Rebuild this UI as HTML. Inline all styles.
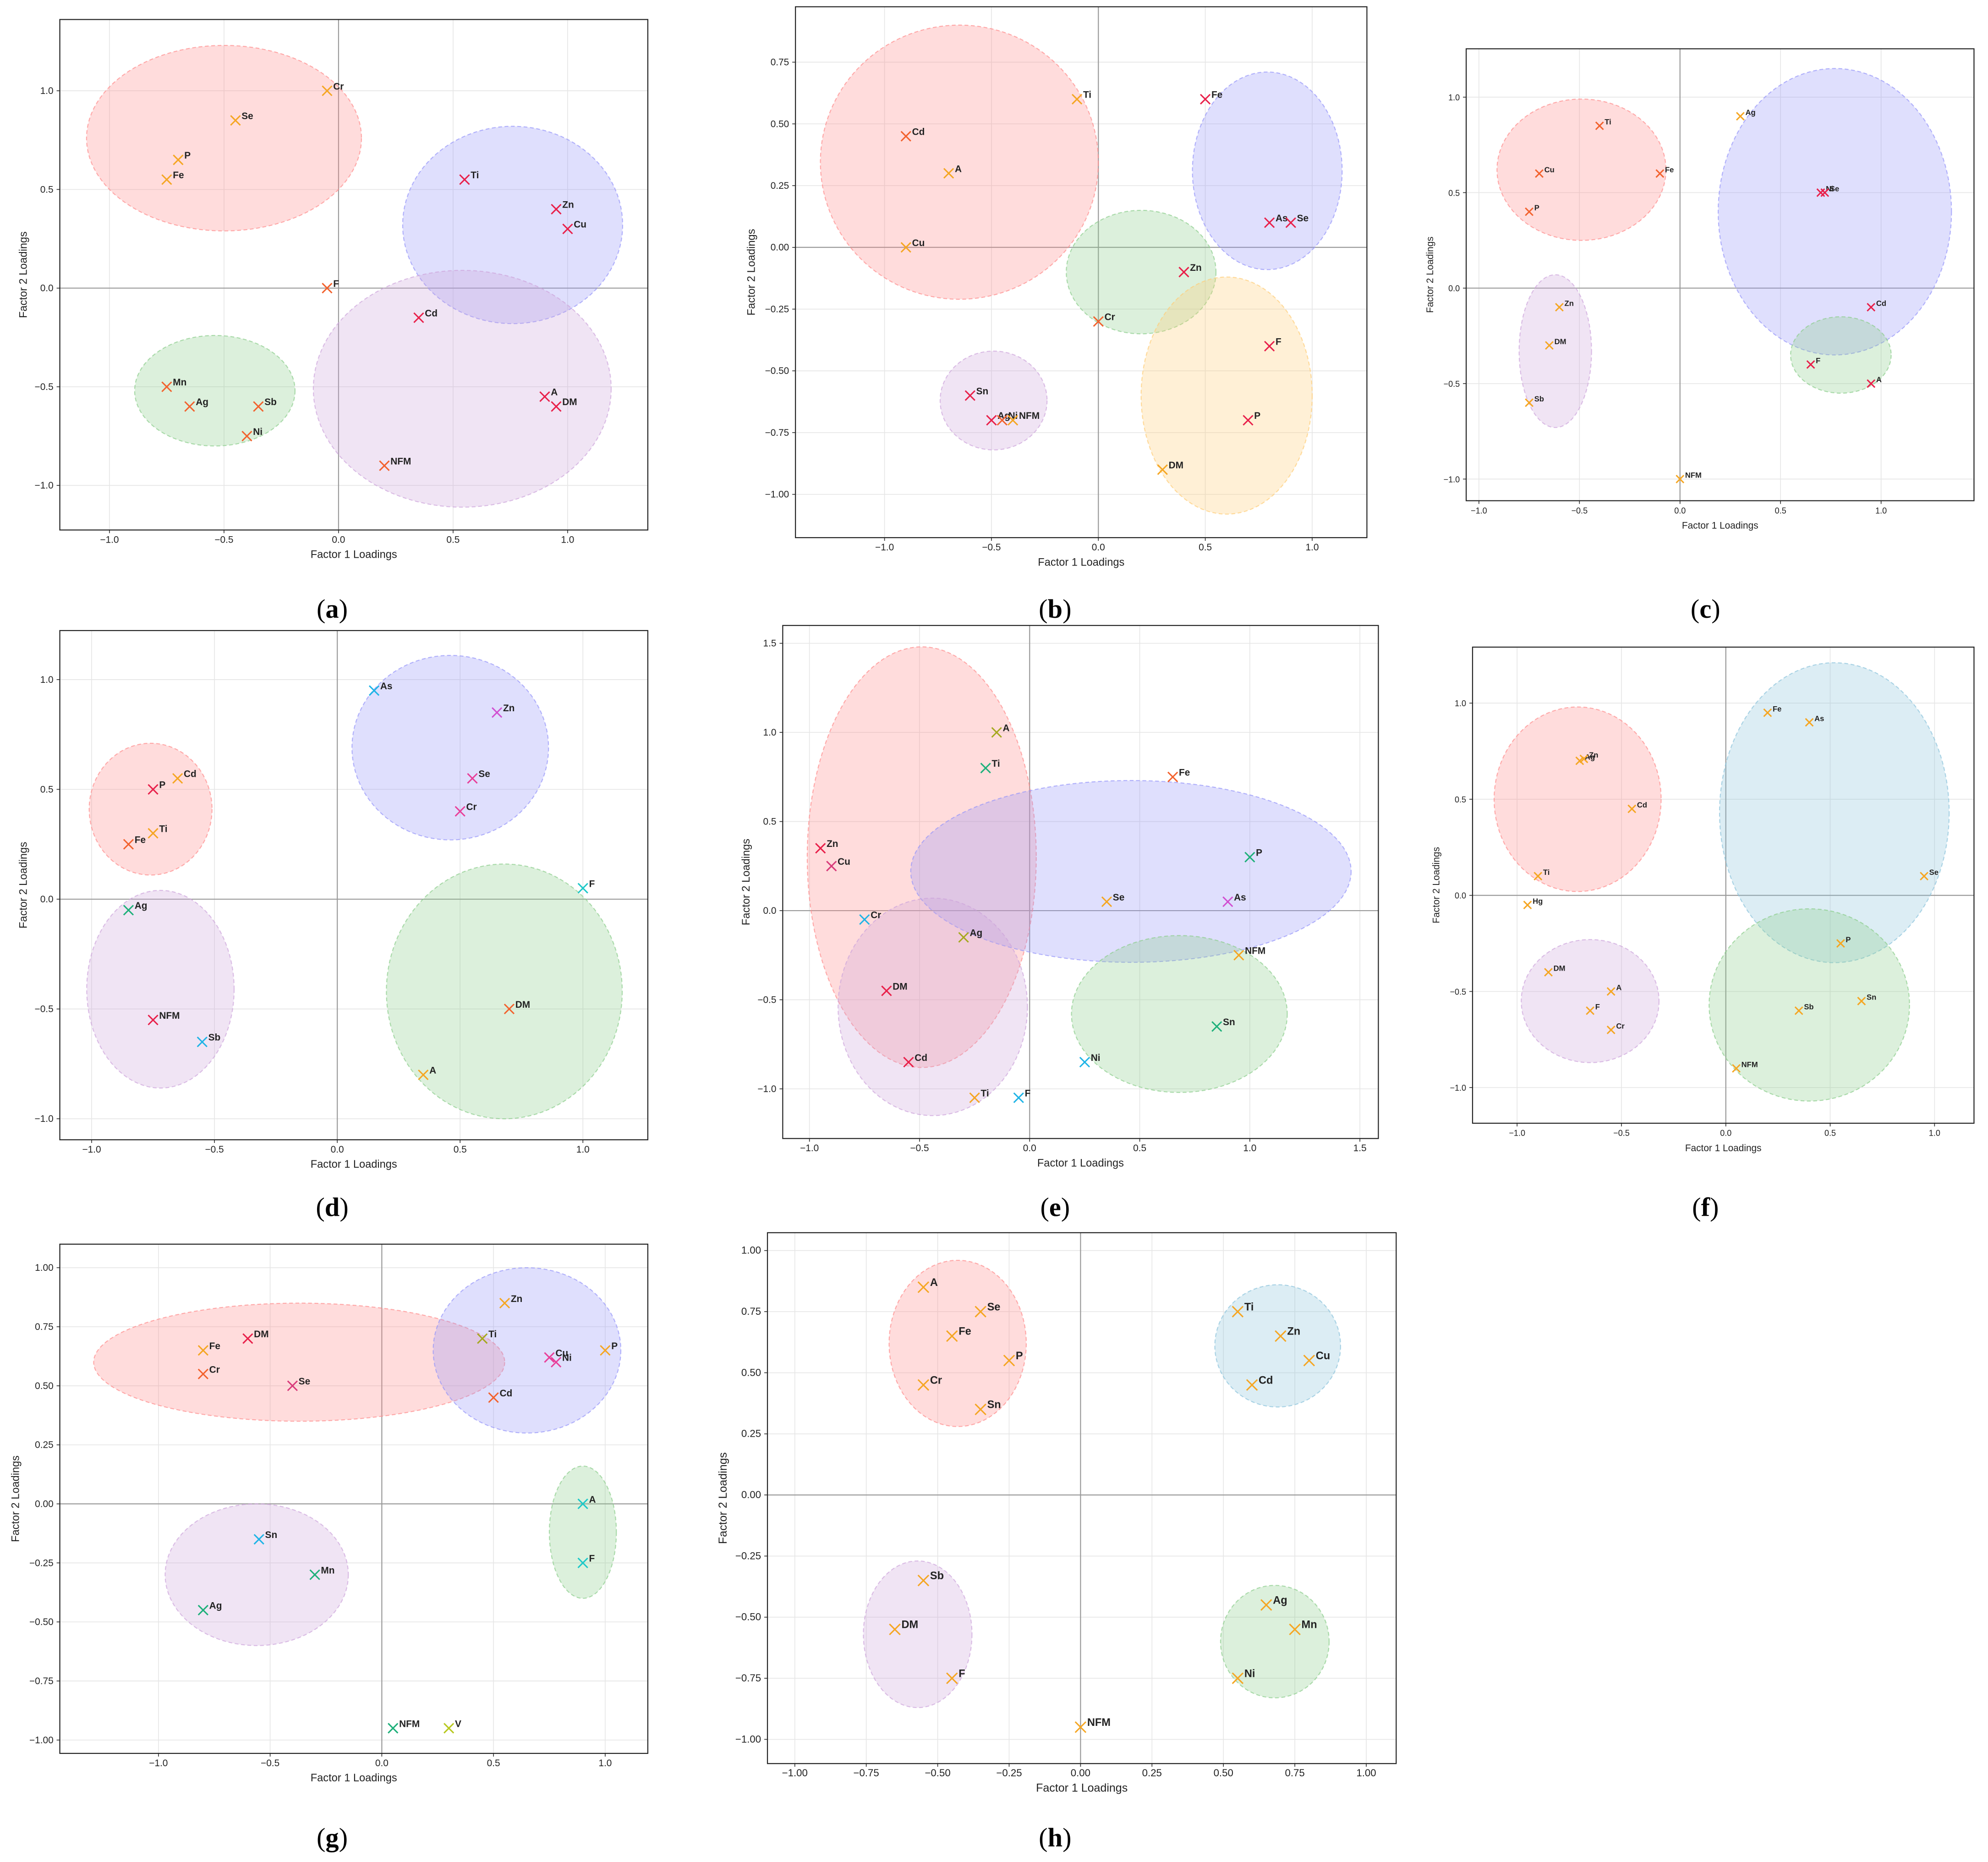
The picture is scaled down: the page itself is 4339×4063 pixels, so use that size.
<!DOCTYPE html>
<html><head><meta charset="utf-8">
<style>
html,body{margin:0;padding:0;background:#fff;}
svg{display:block;}
text{font-family:"Liberation Sans",sans-serif;}
</style></head>
<body>
<svg id="fig" width="4339" height="4063" viewBox="0 0 1562 1462" xmlns="http://www.w3.org/2000/svg"></svg>
<script>
// ---------- data ----------
const aLabels=["Cr","Se","P","Fe","Ti","Zn","Cu","F","Cd","A","DM","NFM","Mn","Ag","Sb","Ni"];
const aX=[-0.05,-0.45,-0.7,-0.75,0.55,0.95,1.0,-0.05,0.35,0.9,0.95,0.2,-0.75,-0.65,-0.35,-0.4];
const aY=[1.0,0.85,0.65,0.55,0.55,0.4,0.3,0,-0.15,-0.55,-0.6,-0.9,-0.5,-0.6,-0.6,-0.75];
const aColors=["o","o","o","o","r","r","r","or","r","r","r","or","or","or","or","or"];

const bLabels=["Ti","Fe","Cd","A","Cu","As","Se","Zn","Cr","F","Sn","Ag","Ni","NFM","P","DM"];
const bX=[-0.1,0.5,-0.9,-0.7,-0.9,0.8,0.9,0.4,0,0.8,-0.6,-0.5,-0.45,-0.4,0.7,0.3];
const bY=[0.6,0.6,0.45,0.3,0,0.1,0.1,-0.1,-0.3,-0.4,-0.6,-0.7,-0.7,-0.7,-0.7,-0.9];
const bColors=["o","r","or","o","o","r","r","r","or","r","r","r","or","o","r","o"];

const cLabels=["Ti","Ag","Cu","Fe","P","Ni","Se","Zn","Cd","DM","F","A","Sb","NFM"];
const cX=[-0.4,0.3,-0.7,-0.1,-0.75,0.7,0.72,-0.6,0.95,-0.65,0.65,0.95,-0.75,0];
const cY=[0.85,0.9,0.6,0.6,0.4,0.5,0.5,-0.1,-0.1,-0.3,-0.4,-0.5,-0.6,-1.0];
const cColors=["or","o","or","or","or","r","r","o","r","o","r","r","o","o"];

const dLabels=["As","Zn","Cd","P","Se","Cr","Ti","Fe","F","Ag","DM","NFM","Sb","A"];
const dX=[0.15,0.65,-0.65,-0.75,0.55,0.5,-0.75,-0.85,1.0,-0.85,0.7,-0.75,-0.55,0.35];
const dY=[0.95,0.85,0.55,0.5,0.55,0.4,0.3,0.25,0.05,-0.05,-0.5,-0.55,-0.65,-0.8];
const dColors=["sky","vi","o","r","pk","pk","o","or","cy","tg","or","r","sky","o"];

const eLabels=["A","Ti","Fe","Zn","Cu","P","Cr","Se","As","Ag","NFM","DM","Sn","Cd","Ni","Ti","F"];
const eX=[-0.15,-0.2,0.65,-0.95,-0.9,1.0,-0.75,0.35,0.9,-0.3,0.95,-0.65,0.85,-0.55,0.25,-0.25,-0.05];
const eY=[1.0,0.8,0.75,0.35,0.25,0.3,-0.05,0.05,0.05,-0.15,-0.25,-0.45,-0.65,-0.85,-0.85,-1.05,-1.05];
const eColors=["ol","tg","or","r","vr","tg","sky","o","vi","ol","o","r","tg","r","sky","o","sky"];

const fLabels=["Fe","As","Ag","Zn","Cd","Ti","Se","Hg","P","DM","A","F","Cr","Sb","Sn","NFM"];
const fX=[0.2,0.4,-0.7,-0.68,-0.45,-0.9,0.95,-0.95,0.55,-0.85,-0.55,-0.65,-0.55,0.35,0.65,0.05];
const fY=[0.95,0.9,0.7,0.71,0.45,0.1,0.1,-0.05,-0.25,-0.4,-0.5,-0.6,-0.7,-0.6,-0.55,-0.9];
const fColors=["o","o","o","o","o","o","o","o","o","o","o","o","o","o","o","o"];

const gLabels=["Zn","Fe","DM","Ti","P","Cr","Cu","Ni","Se","Cd","A","F","Sn","Mn","Ag","NFM","V"];
const gX=[0.55,-0.8,-0.6,0.45,1.0,-0.8,0.75,0.78,-0.4,0.5,0.9,0.9,-0.55,-0.3,-0.8,0.05,0.3];
const gY=[0.85,0.65,0.7,0.7,0.65,0.55,0.62,0.6,0.5,0.45,0,-0.25,-0.15,-0.3,-0.45,-0.95,-0.95];
const gColors=["o","o","r","ol","o","or","pk","pk","vr","or","cy","cy","sky","tg","tg","tg","yg"];

const hLabels=["A","Se","Fe","P","Cr","Sn","Ti","Zn","Cu","Cd","Sb","DM","F","Ag","Mn","Ni","NFM"];
const hX=[-0.55,-0.35,-0.45,-0.25,-0.55,-0.35,0.55,0.7,0.8,0.6,-0.55,-0.65,-0.45,0.65,0.75,0.55,0];
const hY=[0.85,0.75,0.65,0.55,0.45,0.35,0.75,0.65,0.55,0.45,-0.35,-0.55,-0.75,-0.45,-0.55,-0.75,-0.95];
const hColors=["o","o","o","o","o","o","o","o","o","o","o","o","o","o","o","o","o"];

// ellipses: [cx, cy, rx, ry, colorKey]
const aEll=[[-0.5,0.76,0.6,0.47,"red"],[0.76,0.32,0.48,0.5,"blue"],[-0.54,-0.52,0.35,0.28,"green"],[0.54,-0.51,0.65,0.6,"purple"]];
const bEll=[[-0.65,0.345,0.65,0.555,"red"],[0.79,0.31,0.35,0.4,"blue"],[0.2,-0.1,0.35,0.25,"green"],[0.6,-0.6,0.4,0.48,"yellow"],[-0.49,-0.62,0.25,0.2,"purple"]];
const cEll=[[-0.49,0.62,0.42,0.37,"red"],[0.77,0.4,0.58,0.75,"blue"],[0.8,-0.35,0.25,0.2,"green"],[-0.62,-0.33,0.18,0.4,"purple"]];
const dEll=[[-0.76,0.41,0.25,0.3,"red"],[0.46,0.69,0.4,0.42,"blue"],[0.68,-0.42,0.48,0.58,"green"],[-0.72,-0.41,0.3,0.45,"purple"]];
const eEll=[[-0.49,0.3,0.52,1.18,"red"],[0.46,0.22,1.0,0.51,"blue"],[-0.44,-0.54,0.43,0.61,"purple"],[0.68,-0.58,0.49,0.44,"green"]];
const fEll=[[-0.71,0.5,0.4,0.48,"red"],[0.52,0.43,0.55,0.78,"lblue"],[0.4,-0.57,0.48,0.5,"green"],[-0.65,-0.55,0.33,0.32,"purple"]];
const gEll=[[-0.37,0.6,0.92,0.25,"red"],[0.65,0.65,0.42,0.35,"blue"],[0.9,-0.12,0.15,0.28,"green"],[-0.56,-0.3,0.41,0.3,"purple"]];
const hEll=[[-0.43,0.62,0.24,0.34,"red"],[0.69,0.61,0.22,0.25,"lblue"],[-0.57,-0.57,0.19,0.3,"purple"],[0.68,-0.6,0.19,0.23,"green"]];

const aXTicks=[-1.0,-0.5,0,0.5,1.0], aYTicks=[-1.0,-0.5,0,0.5,1.0];
const bXTicks=[-1.0,-0.5,0,0.5,1.0], bYTicks=[-1.0,-0.75,-0.5,-0.25,0,0.25,0.5,0.75];
const cXTicks=[-1.0,-0.5,0,0.5,1.0], cYTicks=[-1.0,-0.5,0,0.5,1.0];
const dXTicks=[-1.0,-0.5,0,0.5,1.0], dYTicks=[-1.0,-0.5,0,0.5,1.0];
const eXTicks=[-1.0,-0.5,0,0.5,1.0,1.5], eYTicks=[-1.0,-0.5,0,0.5,1.0,1.5];
const fXTicks=[-1.0,-0.5,0,0.5,1.0], fYTicks=[-1.0,-0.5,0,0.5,1.0];
const gXTicks=[-1.0,-0.5,0,0.5,1.0], gYTicks=[-1.0,-0.75,-0.5,-0.25,0,0.25,0.5,0.75,1.0];
const hXTicks=[-1.0,-0.75,-0.5,-0.25,0,0.25,0.5,0.75,1.0], hYTicks=[-1.0,-0.75,-0.5,-0.25,0,0.25,0.5,0.75,1.0];

// ---------- styles / layout ----------
const COL={o:"#f5a623",or:"#f2622e",r:"#e8204a",sky:"#1fb4e6",vi:"#d14fd1",pk:"#e8409a",cy:"#1ec8c8",tg:"#1eb07a",ol:"#a6a820",vr:"#d83a7a",yg:"#b8c820"};
const ECOL={red:"255,140,140",blue:"150,150,250",green:"140,205,140",purple:"205,165,220",yellow:"255,205,120",lblue:"140,195,220"};
const panels=[
 {id:"a",L:47,R:509,T:15,B:416,x0:266,sx:180,y0:226,sy:155,xt:aXTicks,yt:aYTicks,xd:1,yd:1,lab:aLabels,X:aX,Y:aY,C:aColors,E:aEll,pl:[261,478]},
 {id:"b",L:625,R:1074,T:5,B:422,x0:863,sx:168,y0:194,sy:194,xt:bXTicks,yt:bYTicks,xd:1,yd:2,lab:bLabels,X:bX,Y:bY,C:bColors,E:bEll,pl:[829,478]},
 {id:"c",L:1152,R:1551,T:38,B:393,x0:1320,sx:158,y0:226,sy:150,xt:cXTicks,yt:cYTicks,xd:1,yd:1,lab:cLabels,X:cX,Y:cY,C:cColors,E:cEll,pl:[1340,478],small:true},
 {id:"d",L:47,R:509,T:495,B:895,x0:265,sx:193,y0:706,sy:172.5,xt:dXTicks,yt:dYTicks,xd:1,yd:1,lab:dLabels,X:dX,Y:dY,C:dColors,E:dEll,pl:[261,948]},
 {id:"e",L:615,R:1083,T:491,B:894,x0:809,sx:173,y0:715,sy:140,xt:eXTicks,yt:eYTicks,xd:1,yd:1,lab:eLabels,X:eX,Y:eY,C:eColors,E:eEll,pl:[829,948]},
 {id:"f",L:1157,R:1551,T:508,B:882,x0:1356,sx:164,y0:703,sy:151,xt:fXTicks,yt:fYTicks,xd:1,yd:1,lab:fLabels,X:fX,Y:fY,C:fColors,E:fEll,pl:[1340,948],small:true},
 {id:"g",L:47,R:509,T:977,B:1377,x0:300,sx:175.5,y0:1181,sy:185.5,xt:gXTicks,yt:gYTicks,xd:1,yd:2,lab:gLabels,X:gX,Y:gY,C:gColors,E:gEll,pl:[261,1443]},
 {id:"h",L:603,R:1097,T:968,B:1385,x0:849,sx:224.5,y0:1174,sy:192,xt:hXTicks,yt:hYTicks,xd:2,yd:2,lab:hLabels,X:hX,Y:hY,C:hColors,E:hEll,pl:[829,1443],big:true}
];

const NS="http://www.w3.org/2000/svg";
const fig=document.getElementById("fig");
function mk(tag,attrs,parent){const e=document.createElementNS(NS,tag);for(const k in attrs)e.setAttribute(k,attrs[k]);parent.appendChild(e);return e;}
function fmt(v,d){const s=Math.abs(v).toFixed(d);return (v<0?"\u2212":"")+s;}

panels.forEach(p=>{
  const g=mk("g",{},fig);
  
  
  const xs=v=>p.x0+v*p.sx, ys=v=>p.y0-v*p.sy;
  const fs=p.small?6.5:(p.big?8:7.5);
  const clipId="clip"+p.id;
  const cp=mk("clipPath",{id:clipId},g);
  mk("rect",{x:p.L,y:p.T,width:p.R-p.L,height:p.B-p.T},cp);
  p.xt.forEach(t=>{
    const l=mk("line",{x1:xs(t),x2:xs(t),y1:p.T,y2:p.B,stroke:"#e6e6e6","stroke-width":0.6},g);
    
    
    const tx=mk("text",{x:xs(t),y:p.B+10,"font-size":fs,"text-anchor":"middle",fill:"#222"},g);
    tx.textContent=fmt(t,p.xd);
    
    
    mk("line",{x1:xs(t),x2:xs(t),y1:p.B,y2:p.B+2.5,stroke:"#333","stroke-width":0.6},g);
  });
  p.yt.forEach(t=>{
    const l=mk("line",{x1:p.L,x2:p.R,y1:ys(t),y2:ys(t),stroke:"#e6e6e6","stroke-width":0.6},g);
    
    
    const tx=mk("text",{x:p.L-5,y:ys(t)+2.5,"font-size":fs,"text-anchor":"end",fill:"#222"},g);
    tx.textContent=fmt(t,p.yd);
    
    
    mk("line",{x1:p.L-2.5,x2:p.L,y1:ys(t),y2:ys(t),stroke:"#333","stroke-width":0.6},g);
  });
  const zx=mk("line",{x1:xs(0),x2:xs(0),y1:p.T,y2:p.B,stroke:"#9a9a9a","stroke-width":0.8},g);
  
  
  const zy=mk("line",{x1:p.L,x2:p.R,y1:ys(0),y2:ys(0),stroke:"#9a9a9a","stroke-width":0.8},g);
  
  
  const eg=mk("g",{"clip-path":"url(#"+clipId+")"},g);
  p.E.forEach(e=>{
    const c=ECOL[e[4]];
    const el=mk("ellipse",{cx:xs(e[0]),cy:ys(e[1]),rx:e[2]*p.sx,ry:e[3]*p.sy,fill:"rgba("+c+",0.3)",stroke:"rgba("+c+",0.7)","stroke-width":0.8,"stroke-dasharray":"3,2"},eg);
    
    
  });
  const ms=p.small?3:(p.big?4.2:3.8);
  p.lab.forEach((lb,i)=>{
    const cx=xs(p.X[i]), cy=ys(p.Y[i]), col=COL[p.C[i]];
    const pt=mk("path",{d:`M${cx-ms},${cy-ms}L${cx+ms},${cy+ms}M${cx-ms},${cy+ms}L${cx+ms},${cy-ms}`,stroke:col,"stroke-width":1.1,fill:"none"},g);
    
    
    const t=mk("text",{x:cx+ms+1,y:cy-1,"font-size":p.small?6:(p.big?8.5:7.5),"font-weight":"bold",fill:"#222"},g);
    t.textContent=lb;
    
    
  });
  const fr=mk("rect",{x:p.L,y:p.T,width:p.R-p.L,height:p.B-p.T,fill:"none",stroke:"#222","stroke-width":0.8},g);
  
  
  const xt=mk("text",{x:(p.L+p.R)/2,y:p.B+22,"font-size":fs+1,"text-anchor":"middle",fill:"#222"},g);
  xt.textContent="Factor 1 Loadings";
  
  
  const yx=p.L-(p.yd===2?32:26), yy=(p.T+p.B)/2;
  const yt=mk("text",{x:yx,y:yy,"font-size":fs+1,"text-anchor":"middle",fill:"#222",transform:`rotate(-90 ${yx} ${yy})`},g);
  yt.textContent="Factor 2 Loadings";
  
  
  const pl=mk("text",{x:p.pl[0],y:p.pl[1]+7,"font-size":21,"text-anchor":"middle",fill:"#000",style:"font-family:'Liberation Serif',serif"},g);
  pl.innerHTML='(<tspan font-weight="bold">'+p.id+'</tspan>)';
  
  
});
</script>
</body></html>
